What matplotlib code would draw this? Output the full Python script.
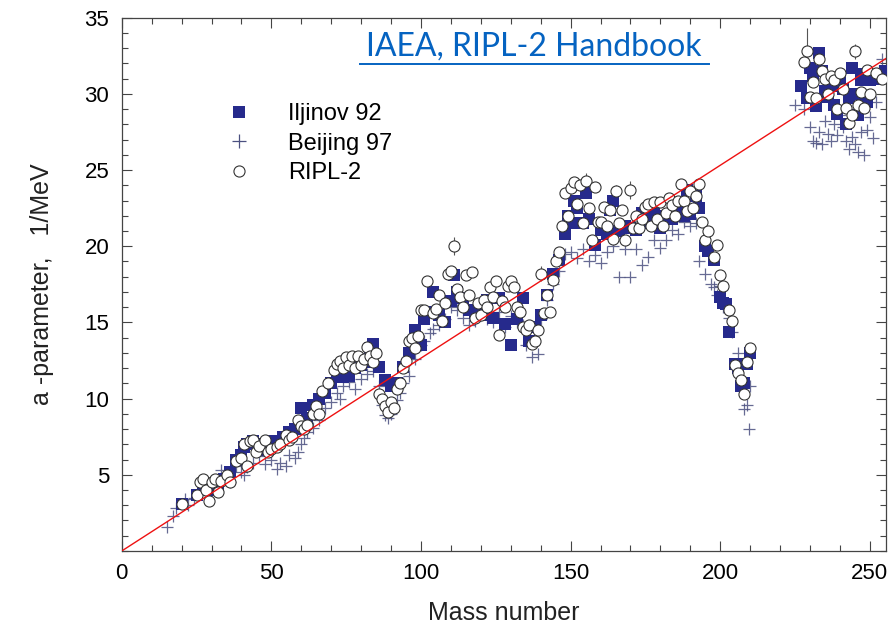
import numpy as np
import matplotlib.pyplot as plt
from matplotlib.lines import Line2D
from matplotlib.ticker import MultipleLocator

plt.rcParams['font.family'] = ['Liberation Sans', 'DejaVu Sans']

# Iljinov 92 (squares)
A_ilj = [20, 25, 27, 30, 32, 34, 36, 38, 40, 41, 42, 44, 46, 48, 50, 52, 54, 56, 58, 60,
         61, 62, 64, 66, 68, 70, 72, 74, 76, 78, 80, 82, 83, 84, 86, 88, 90, 92, 94, 96,
         98, 100, 101, 102, 104, 106, 108, 110, 111, 112, 114, 116, 118, 120, 122, 124, 126, 128, 130, 132,
         134, 136, 138, 140, 142, 144, 146, 148, 149, 150, 151, 152, 154, 155, 156, 158, 160, 162, 163, 164,
         166, 168, 170, 172, 174, 176, 178, 180, 182, 184, 186, 188, 189, 190, 192, 193, 195, 196, 198, 200,
         201, 202, 203, 205, 206, 207, 208, 209, 210,
         227, 229, 230, 231, 232, 233, 234, 235, 236, 237, 238, 239, 240, 241, 242, 243, 244, 245, 246, 247,
         248, 249, 250, 252, 254, 255]
a_ilj = [3.1, 3.7, 4.0, 4.0, 4.3, 4.7, 5.2, 6.0, 6.3, 6.8, 7.0, 7.2, 6.6, 7.0, 7.2, 7.2, 7.5, 7.8, 8.0, 9.4,
         8.5, 8.7, 9.6, 10.0, 10.4, 11.0, 11.5, 11.4, 11.5, 12.0, 12.2, 12.4, 13.3, 13.6, 12.1, 11.2, 10.8, 11.0, 12.1, 13.0,
         14.5, 13.5, 15.2, 15.7, 17.0, 15.5, 15.0, 16.4, 18.1, 17.0, 16.6, 15.8, 15.6, 15.5, 16.5, 15.3, 16.6, 14.9, 13.5, 15.2,
         16.6, 13.8, 14.7, 15.5, 16.8, 18.2, 19.1, 20.8, 22.0, 21.5, 23.0, 22.5, 21.5, 23.5, 21.8, 20.1, 21.1, 20.8, 22.4, 23.0,
         21.0, 21.3, 21.2, 21.1, 22.2, 21.5, 22.1, 21.2, 22.0, 21.8, 22.5, 22.0, 23.7, 22.1, 23.3, 22.5, 20.0, 19.7, 19.1, 16.7,
         16.3, 16.2, 14.4, 12.3, 12.0, 10.8, 11.0, 12.3, 13.0,
         30.5, 29.7, 31.7, 31.2, 29.2, 32.7, 31.5, 30.2, 29.8, 30.5, 29.3, 28.7, 30.8, 30.3, 28.0, 29.7, 31.7, 30.0, 28.6, 30.9,
         31.3, 29.5, 30.9, 31.0, 31.2, 31.5]

# Beijing 97 (crosses)
A_bei = [15, 17, 18, 21, 22, 24, 26, 28, 30, 31, 33, 34, 36, 38, 40, 41, 42, 44, 46, 48,
         50, 52, 53, 55, 56, 58, 59, 60, 61, 62, 64, 66, 68, 70, 72, 73, 74, 76, 78, 80,
         82, 84, 86, 87, 88, 89, 90, 91, 92, 93, 94, 96, 98, 100, 101, 103, 104, 106, 108, 110,
         112, 114, 116, 118, 120, 122, 124, 126, 128, 130, 132, 134, 135, 137, 139, 140, 142, 144, 146, 148,
         150, 152, 154, 156, 158, 160, 162, 164, 166, 168, 170, 172, 174, 176, 178, 180, 182, 184, 186, 188,
         190, 192, 193, 195, 197, 198, 199, 200, 201, 203, 204, 206, 207, 208, 209, 209.5, 210,
         225, 228, 230, 231, 232, 233, 234, 235, 236, 237, 238, 239, 240, 241, 242, 243, 244, 245, 246, 247,
         248, 249, 250, 251, 252, 253, 254, 255]
a_bei = [1.6, 2.3, 2.8, 3.4, 3.0, 3.5, 3.9, 4.1, 4.0, 4.6, 5.3, 4.8, 4.5, 5.6, 5.2, 5.0, 5.5, 5.8, 6.2, 5.7,
         6.0, 5.4, 5.8, 5.6, 6.3, 6.1, 6.5, 7.0, 7.4, 7.8, 8.1, 8.6, 9.4, 9.8, 10.4, 10.0, 10.8, 11.1, 10.6, 11.3,
         11.6, 11.8, 10.8, 9.6, 8.9, 8.7, 9.0, 9.3, 9.9, 10.4, 11.0, 11.5, 12.6, 13.5, 13.8, 14.3, 14.6, 14.8, 15.2, 16.0,
         15.8, 15.3, 14.8, 15.1, 15.8, 15.2, 15.0, 15.7, 14.7, 15.4, 15.0, 14.8, 13.5, 12.7, 12.9, 15.2, 16.5, 17.5, 18.4, 19.5,
         19.6, 19.2, 19.8, 19.0, 19.4, 18.9, 19.6, 20.0, 18.0, 19.8, 18.0, 19.8, 18.8, 19.3, 20.4, 19.9, 20.4, 21.1, 20.8, 21.6,
         21.3, 21.5, 19.0, 18.2, 17.5, 17.3, 16.8, 17.4, 16.0, 15.3, 14.4, 13.0, 12.0, 9.3, 9.6, 8.0, 10.8,
         29.3, 29.0, 27.8, 26.9, 26.8, 27.5, 26.7, 28.2, 27.4, 26.9, 28.0, 27.3, 28.6, 27.8, 26.9, 26.4, 27.2, 26.7, 26.2, 27.5,
         26.0, 27.6, 28.5, 27.1, 29.5, 31.5, 32.3, 31.5]

# RIPL-2 (open circles)
A_ripl = [20, 25, 26, 27, 28, 29, 30, 31, 32, 33, 35, 36, 38, 40, 41, 42, 43, 44, 45, 46,
          48, 49, 50, 52, 53, 55, 56, 57, 59, 60, 61, 62, 64, 65, 66, 67, 69, 71, 72, 73,
          74, 75, 76, 77, 78, 79, 80, 81, 82, 83, 84, 85, 86, 87, 88, 89, 90, 91, 92, 93,
          94, 95, 96, 97, 98, 99, 100, 101, 102, 104, 105, 106, 107, 108, 109, 110, 111, 112, 113, 114,
          115, 116, 117, 118, 119, 120, 121, 122, 123, 124, 125, 126, 127, 128, 129, 130, 131, 132, 133, 134,
          135, 136, 137, 138, 139, 140, 141, 142, 143, 144, 145, 146, 147, 148, 149, 150, 151, 152, 153, 154,
          155, 156, 157, 158, 159, 160, 161, 162, 163, 164, 165, 166, 167, 168, 170, 171, 172, 173, 174, 175,
          176, 177, 178, 179, 180, 181, 182, 183, 184, 185, 186, 187, 188, 189, 190, 191, 192, 193, 194, 195,
          196, 198, 199, 200, 201, 203, 204, 205, 206, 207, 208, 209, 210,
          228, 229, 230, 231, 232, 233, 234, 235, 236, 237, 238, 239, 240, 241, 242, 243, 244, 245, 246, 247,
          248, 249, 250, 252, 254]
a_ripl = [3.1, 3.7, 4.5, 4.7, 4.0, 3.3, 4.5, 4.7, 3.9, 4.6, 5.0, 4.5, 5.9, 6.1, 7.0, 5.6, 7.2, 7.3, 6.5, 6.9,
          7.3, 6.5, 6.7, 6.8, 7.0, 7.6, 7.3, 7.5, 8.6, 8.2, 8.0, 8.3, 9.0, 9.5, 9.0, 10.5, 11.0, 11.9, 12.3, 12.5,
          12.0, 12.7, 12.2, 12.8, 12.0, 12.8, 12.2, 12.6, 13.4, 12.8, 12.4, 13.0, 10.3, 10.0, 9.5, 9.1, 9.8, 9.4, 10.6, 11.0,
          12.0, 12.5, 13.8, 14.0, 13.3, 14.1, 15.8, 15.8, 17.7, 15.6, 15.9, 16.8, 15.1, 16.3, 18.2, 18.4, 20.0, 17.2, 16.7, 16.0,
          18.1, 16.8, 18.3, 15.3, 16.3, 15.5, 16.5, 16.0, 17.3, 16.7, 17.7, 14.2, 16.4, 16.0, 17.4, 17.7, 17.3, 16.0, 15.7, 14.7,
          14.5, 14.8, 13.6, 13.8, 14.5, 18.2, 15.6, 16.8, 15.7, 17.8, 19.0, 19.6, 21.3, 23.5, 22.0, 23.8, 24.2, 22.8, 24.0, 21.5,
          24.3, 22.5, 20.4, 23.9, 21.6, 21.6, 22.6, 21.3, 22.4, 20.5, 23.6, 21.5, 22.4, 20.4, 23.7, 21.2, 22.0, 21.2, 21.8, 22.6,
          22.8, 21.3, 22.9, 21.8, 22.9, 21.3, 22.2, 23.2, 22.7, 22.0, 23.0, 24.1, 23.0, 22.3, 23.6, 22.5, 23.3, 24.1, 21.6, 20.4,
          21.0, 19.3, 20.1, 18.1, 17.4, 15.8, 15.1, 12.2, 11.7, 11.2, 10.3, 12.4, 13.3,
          32.1, 32.8, 29.8, 30.8, 29.7, 32.3, 31.5, 31.0, 30.0, 31.2, 30.9, 29.0, 31.4, 30.3, 29.1, 28.1, 28.6, 32.8, 29.3, 30.1,
          29.1, 31.6, 30.0, 31.4, 31.0]

# a few RIPL-2 error bars (1/MeV)
A_err = [111, 140, 155, 165, 170, 193, 229, 245]
a_err = [20.0, 18.2, 24.3, 23.6, 23.7, 24.1, 32.8, 32.8]
d_err = [0.6, 0.5, 0.5, 0.4, 0.6, 0.4, 1.5, 0.5]

# systematics a = A/7.9
A_line = np.array([0, 256])
a_line = A_line / 7.9

fig = plt.figure(figsize=(8.89, 6.34), dpi=100)
ax = fig.add_axes([0.137, 0.131, 0.860, 0.841])

ax.errorbar(A_err, a_err, yerr=d_err, fmt='none', ecolor='#555555', elinewidth=0.8, zorder=1)
ax.plot(A_bei, a_bei, '+', color='#4b5080', ms=9, mew=0.9, alpha=0.85, zorder=2)
ax.plot(A_ilj, a_ilj, 's', color='#262a8c', ms=8.5, mew=0, zorder=3)
ax.plot(A_ripl, a_ripl, 'o', mfc='white', mec='#333333', ms=8, mew=0.8, zorder=4)
ax.plot(A_line, a_line, '-', color='#ee1111', lw=1.0, zorder=5)

ax.set_xlim(0, 255.5)
ax.set_ylim(0, 35)
ax.xaxis.set_major_locator(MultipleLocator(50))
ax.xaxis.set_minor_locator(MultipleLocator(10))
ax.yaxis.set_major_locator(MultipleLocator(5))
ax.yaxis.set_minor_locator(MultipleLocator(1))
ax.set_yticks([5, 10, 15, 20, 25, 30, 35])
ax.tick_params(which='both', direction='in', top=True, right=True, labelsize=16, color='#444444')
ax.tick_params(which='major', length=7, width=0.8, pad=9)
ax.tick_params(which='minor', length=4, width=0.8)
for s in ax.spines.values():
    s.set_color('#444444')
    s.set_linewidth(0.9)

ax.set_xlabel('Mass number', fontsize=18, labelpad=12, color='#222222')
ax.set_ylabel('a -parameter,   1/MeV', fontsize=18, labelpad=22, color='#222222')

# legend
h1 = Line2D([], [], ls='none', marker='s', color='#262a8c', ms=8.5, mew=0)
h2 = Line2D([], [], ls='none', marker='+', color='#4b5080', ms=10, mew=0.9)
h3 = Line2D([], [], ls='none', marker='o', mfc='white', mec='#333333', ms=8, mew=0.8)
ax.legend([h1, h2, h3], ['Iljinov 92', 'Beijing 97', 'RIPL-2'], loc='upper left',
          bbox_to_anchor=(0.115, 0.862), frameon=False, fontsize=17, handletextpad=1.3,
          labelspacing=0.32, handlelength=1.5, borderpad=0)

# source note
fig.text(0.601, 0.926, 'IAEA, RIPL-2 Handbook', ha='center', va='center',
         fontsize=23, color='#0563C1', family=['Lato', 'DejaVu Sans'])
fig.add_artist(Line2D([0.405, 0.797], [0.899, 0.899], color='#0563C1', lw=1.4))

plt.savefig('out.png')
